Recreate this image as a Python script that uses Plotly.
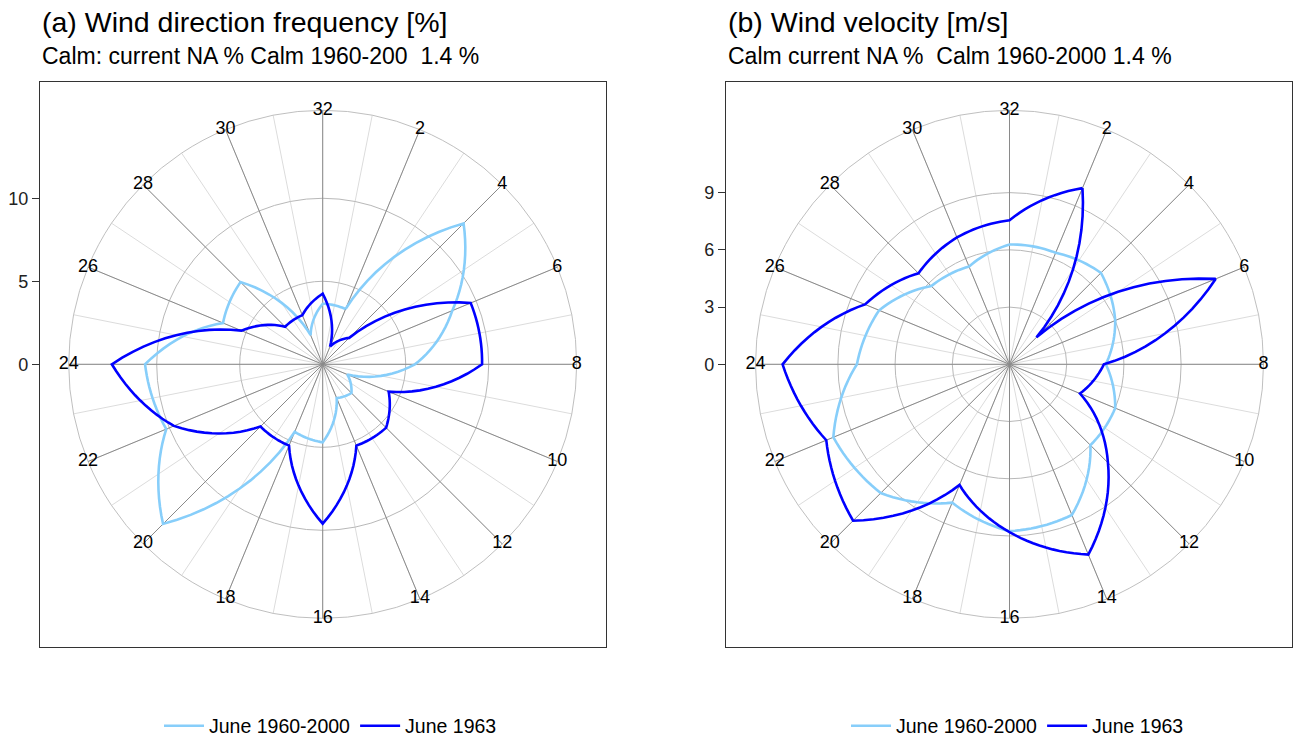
import plotly.graph_objects as go

# ---------------- data ----------------
directions = [2, 4, 6, 8, 10, 12, 14, 16, 18, 20, 22, 24, 26, 28, 30, 32]
direction_labels = [str(d) for d in directions]
series_names = ["June 1960-2000", "June 1963"]

freq_1960_2000 = [3.6, 12.0, 8.45, 5.55, 1.6, 2.45, 2.2, 4.7, 4.4, 13.6, 10.2, 10.7, 6.5, 7.0, 1.9, 3.65]
freq_1963 = [1.15, 2.25, 9.65, 9.6, 4.3, 5.4, 5.3, 9.6, 5.3, 5.3, 9.7, 12.7, 5.3, 3.2, 3.2, 4.25]
vel_1960_2000 = [6.33, 6.78, 6.0, 5.05, 6.0, 6.0, 8.55, 8.75, 7.85, 9.55, 10.0, 8.0, 7.4, 5.8, 5.55, 6.28]
vel_1963 = [10.0, 2.0, 11.7, 4.95, 4.0, 7.3, 10.8, 8.8, 6.85, 11.6, 10.4, 11.9, 8.2, 6.75, 7.2, 7.55]

freq_ticks = [0, 5, 10]
vel_ticks = [0, 3, 6, 9]
freq_circles = [5, 10]
vel_circles = [3, 6, 9]
freq_rmax = 15.3
vel_rmax = 13.32

titles = ["(a) Wind direction frequency [%]", "(b) Wind velocity [m/s]"]
subtitles = ["Calm: current NA % Calm 1960-200  1.4 %", "Calm current NA %  Calm 1960-2000 1.4 %"]

# ---------------- styling / layout ----------------
W, H = 1293, 740
FONT = "Liberation Sans, Arial, sans-serif"
C_LIGHT = "#87CEFA"
C_DARK = "#0000FF"
N_POINTS = 32
STEP = 360.0 / N_POINTS


def px_x(x):
    return x / W


def px_y(y):
    return 1 - y / H


panels = [
    dict(box=(40, 82, 606, 647), center=(322.7, 364.3), rmax=freq_rmax, legend_x=330.5,
         ticks=freq_ticks, circles=freq_circles, series=[freq_1960_2000, freq_1963]),
    dict(box=(726, 82, 1292, 647), center=(1009.5, 364.3), rmax=vel_rmax, legend_x=1017.5,
         ticks=vel_ticks, circles=vel_circles, series=[vel_1960_2000, vel_1963]),
]
RADIUS_PX = 254


def polar_path(dirs, vals, sub=12):
    """Path drawn as in a polar coordinate system: radius varies linearly
    with angle between consecutive readings (closed loop)."""
    th = [d * STEP for d in dirs]
    n = len(dirs)
    ts, rs = [], []
    for i in range(n):
        t0, r0 = th[i], vals[i]
        t1, r1 = th[(i + 1) % n], vals[(i + 1) % n]
        if t1 <= t0:
            t1 += 360
        for k in range(sub):
            f = k / sub
            ts.append(t0 + f * (t1 - t0))
            rs.append(r0 + f * (r1 - r0))
    ts.append(th[0])
    rs.append(vals[0])
    return ts, rs


fig = go.Figure()
layout = dict(width=W, height=H, margin=dict(l=0, r=0, t=0, b=0, autoexpand=False),
              paper_bgcolor="white", plot_bgcolor="white",
              font=dict(family=FONT, color="black"), annotations=[])

for p_i, p in enumerate(panels):
    x0, y0, x1, y1 = p["box"]
    cx, cy = p["center"]
    R = p["rmax"]
    scale = RADIUS_PX / R
    sfx = "" if p_i == 0 else str(p_i + 1)
    base = "polar" + ("" if p_i == 0 else str(2 * p_i + 1))
    top = "polar" + str(2 * p_i + 2)
    pdom_x = [px_x(cx - RADIUS_PX), px_x(cx + RADIUS_PX)]
    pdom_y = [px_y(cy + RADIUS_PX), px_y(cy - RADIUS_PX)]

    # cartesian frame + left radial scale
    layout["xaxis" + sfx] = dict(domain=[px_x(x0), px_x(x1)], range=[0, 1], showgrid=False,
                                 zeroline=False, showticklabels=False, ticks="",
                                 showline=True, mirror=True, linecolor="#333333",
                                 linewidth=1.3, anchor="y" + sfx, fixedrange=True)
    layout["yaxis" + sfx] = dict(domain=[px_y(y1), px_y(y0)],
                                 range=[-(y1 - cy) / scale, (cy - y0) / scale],
                                 tickvals=p["ticks"], ticktext=[str(t) for t in p["ticks"]],
                                 ticks="outside", ticklen=7, tickcolor="#333333",
                                 tickfont=dict(size=18, color="#222222", family=FONT),
                                 showgrid=False, zeroline=False, showline=True, mirror=True,
                                 linecolor="#333333", linewidth=1.3, anchor="x" + sfx,
                                 fixedrange=True, automargin=False)
    fig.add_trace(go.Scatter(x=[], y=[], xaxis="x" + sfx, yaxis="y" + sfx,
                             showlegend=False, hoverinfo="skip"))

    all_angles = [k * STEP for k in range(N_POINTS)]
    layout[base] = dict(domain=dict(x=pdom_x, y=pdom_y), bgcolor="rgba(0,0,0,0)",
                        radialaxis=dict(range=[0, R], tickvals=p["circles"], showticklabels=False,
                                        ticks="", showline=False, gridcolor="#b8b8b8", gridwidth=0.8),
                        angularaxis=dict(type="linear", rotation=90, direction="clockwise",
                                         tickmode="array", tickvals=all_angles,
                                         showticklabels=False, ticks="", gridcolor="#dcdcdc",
                                         gridwidth=0.8, showline=True, linecolor="#b8b8b8",
                                         linewidth=0.9))
    even_angles = [(d * STEP) % 360 for d in directions]
    layout[top] = dict(domain=dict(x=pdom_x, y=pdom_y), bgcolor="rgba(0,0,0,0)",
                       radialaxis=dict(range=[0, R], showgrid=False, showticklabels=False,
                                       ticks="", showline=False),
                       angularaxis=dict(type="linear", rotation=90, direction="clockwise",
                                        tickmode="array", tickvals=even_angles,
                                        showticklabels=False, ticks="", gridcolor="#8a8a8a",
                                        gridwidth=0.8, showline=False))
    # placeholder on base polar so it is drawn
    fig.add_trace(go.Scatterpolar(r=[], theta=[], subplot=base, showlegend=False, hoverinfo="skip"))

    leg = "legend" if p_i == 0 else "legend2"
    for s_i, (vals, name, col) in enumerate(zip(p["series"], series_names, [C_LIGHT, C_DARK])):
        t, r = polar_path(directions, vals)
        fig.add_trace(go.Scatterpolar(r=r, theta=t, mode="lines", name=name,
                                      line=dict(color=col, width=2.6), subplot=top,
                                      legend=leg, hoverinfo="skip"))
    # direction labels sitting on the outer circle
    fig.add_trace(go.Scatterpolar(r=[R] * len(directions), theta=[d * STEP for d in directions],
                                  mode="text", text=direction_labels,
                                  textfont=dict(size=18, color="black", family=FONT),
                                  cliponaxis=False, subplot=top, showlegend=False,
                                  hoverinfo="skip"))

    layout[leg] = dict(orientation="h", x=px_x(p["legend_x"]), xanchor="center", y=px_y(726),
                       yanchor="middle", font=dict(size=19.5, family=FONT, color="black"),
                       bgcolor="rgba(0,0,0,0)", itemwidth=40, tracegroupgap=0)

    layout["annotations"].append(dict(text=titles[p_i], x=px_x(x0), y=px_y(22), xref="paper",
                                      yref="paper", xanchor="left", yanchor="middle",
                                      showarrow=False, font=dict(size=28.5, family=FONT, color="black")))
    layout["annotations"].append(dict(text=subtitles[p_i], x=px_x(x0), y=px_y(56), xref="paper",
                                      yref="paper", xanchor="left", yanchor="middle",
                                      showarrow=False, font=dict(size=23, family=FONT, color="black")))

fig.update_layout(**layout)
fig.write_html("out.html", config={"displayModeBar": False},
               post_script="document.body.style.margin='0px';document.body.style.overflow='hidden';")
